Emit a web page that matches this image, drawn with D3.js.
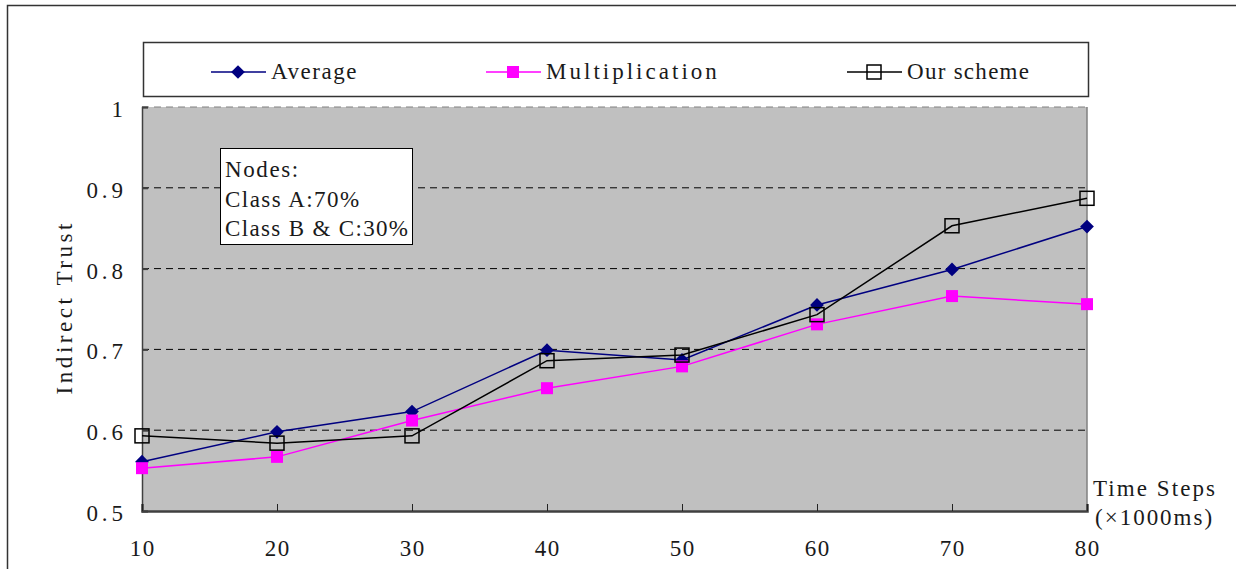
<!DOCTYPE html>
<html>
<head>
<meta charset="utf-8">
<script src="https://cdn.jsdelivr.net/npm/d3@7"></script>
<style>
  html, body { margin: 0; padding: 0; background: #fff; }
  svg { display: block; }
  text { font-family: "Liberation Serif", "DejaVu Serif", serif; fill: #1a1a1a; }
</style>
</head>
<body>
<svg id="chart" width="1236" height="569"></svg>
<script>
// Time steps (x1000 ms)
const steps = [10, 20, 30, 40, 50, 60, 70, 80];

// Indirect trust per scheme
const average        = [0.561, 0.598, 0.623, 0.699, 0.687, 0.755, 0.799, 0.852];
const multiplication = [0.553, 0.567, 0.612, 0.652, 0.679, 0.731, 0.766, 0.756];
const ourScheme      = [0.593, 0.584, 0.593, 0.686, 0.693, 0.743, 0.853, 0.887];

const yTicks = [0.5, 0.6, 0.7, 0.8, 0.9, 1];
const yTickLabels = ["0.5", "0.6", "0.7", "0.8", "0.9", "1"];

const seriesNames = ["Average", "Multiplication", "Our scheme"];
const noteLines = ["Nodes:", "Class A:70%", "Class B & C:30%"];

const series = [
  { name: seriesNames[0], values: average,        color: "#000080", marker: "diamond" },
  { name: seriesNames[1], values: multiplication, color: "#FF00FF", marker: "square" },
  { name: seriesNames[2], values: ourScheme,      color: "#000000", marker: "open" }
];

const svg = d3.select("#chart");
const plot = { left: 142, right: 1087, top: 107, bottom: 511 };

const x = d3.scaleLinear().domain([10, 80]).range([plot.left, plot.right]);
const y = d3.scaleLinear().domain([0.5, 1]).range([plot.bottom, plot.top]);

// fixed-pitch text: each half-width character takes ~12.2px
const CH = 12.2;
function label(sel, str, units) {
  sel.text(str)
    .attr("font-size", 23)
    .attr("textLength", (units || str.length) * CH)
    .attr("lengthAdjust", "spacing");
  return sel;
}

// outer frame (left and top edges visible)
svg.append("path")
  .attr("d", "M7.5,569 V5.5 H1236")
  .attr("fill", "none").attr("stroke", "#333").attr("stroke-width", 1.5);

// plot background
svg.append("rect")
  .attr("x", plot.left).attr("y", plot.top)
  .attr("width", plot.right - plot.left).attr("height", plot.bottom - plot.top)
  .attr("fill", "#C0C0C0");

// horizontal gridlines
svg.append("g").selectAll("line")
  .data(yTicks.filter(v => v > 0.5))
  .join("line")
  .attr("x1", plot.left).attr("x2", plot.right)
  .attr("y1", d => y(d)).attr("y2", d => y(d))
  .attr("stroke", d => d === 1 ? "#808080" : "#000")
  .attr("stroke-width", 1)
  .attr("stroke-dasharray", "7,5");

// right border of plot
svg.append("line")
  .attr("x1", plot.right).attr("x2", plot.right)
  .attr("y1", plot.top).attr("y2", plot.bottom)
  .attr("stroke", "#808080").attr("stroke-width", 1.5);

// y axis
const yAxis = d3.axisLeft(y).tickValues(yTicks).tickSize(-6).tickFormat("");
const gy = svg.append("g").attr("transform", `translate(${plot.left},0)`).call(yAxis);
gy.select(".domain").attr("stroke", "#404040").attr("stroke-width", 1.5);
gy.selectAll(".tick line").attr("stroke", "#404040").attr("stroke-width", 2);

svg.append("g").selectAll("text")
  .data(yTicks)
  .join("text")
  .attr("x", 123)
  .attr("y", d => y(d) + 10)
  .attr("text-anchor", "end")
  .each(function(d, i) { label(d3.select(this), yTickLabels[i]); });

// x axis
const xAxis = d3.axisBottom(x).tickValues(steps).tickSize(-7).tickFormat("");
const gx = svg.append("g").attr("transform", `translate(0,${plot.bottom})`).call(xAxis);
gx.select(".domain").attr("stroke", "#404040").attr("stroke-width", 2.5);
gx.selectAll(".tick line").attr("stroke", "#222").attr("stroke-width", 1);

svg.append("g").selectAll("text")
  .data(steps)
  .join("text")
  .attr("x", d => x(d))
  .attr("y", 556)
  .attr("text-anchor", "middle")
  .each(function(d) { label(d3.select(this), String(d)); });

// axis titles
label(svg.append("text").attr("x", 1093).attr("y", 496), "Time Steps");
label(svg.append("text").attr("x", 1095).attr("y", 525), "(×1000ms)", 9.6);
label(svg.append("text")
  .attr("transform", "translate(72,309) rotate(-90)")
  .attr("text-anchor", "middle"), "Indirect Trust");

// series lines and markers
const line = d3.line().x((d, i) => x(steps[i])).y(d => y(d));

function drawMarker(g, type, color, cx, cy) {
  if (type === "diamond") {
    g.append("path")
      .attr("d", d3.symbol(d3.symbolDiamond2, 120)())
      .attr("transform", `translate(${cx},${cy})`)
      .attr("fill", color);
  } else if (type === "square") {
    g.append("rect")
      .attr("x", cx - 6).attr("y", cy - 6).attr("width", 12).attr("height", 12)
      .attr("fill", color);
  } else {
    g.append("rect")
      .attr("x", cx - 7).attr("y", cy - 7).attr("width", 14).attr("height", 14)
      .attr("fill", "none").attr("stroke", color).attr("stroke-width", 1.5);
  }
}

series.forEach(s => {
  const g = svg.append("g");
  g.append("path")
    .attr("d", line(s.values))
    .attr("fill", "none")
    .attr("stroke", s.color)
    .attr("stroke-width", 1.5);
  s.values.forEach((v, i) => drawMarker(g, s.marker, s.color, x(steps[i]), y(v)));
});

// legend
svg.append("rect")
  .attr("x", 143.5).attr("y", 42.5).attr("width", 945).attr("height", 54)
  .attr("fill", "#fff").attr("stroke", "#333").attr("stroke-width", 1.5);

const legendX = [211, 486, 847];
series.forEach((s, i) => {
  const g = svg.append("g");
  const lx = legendX[i];
  g.append("line")
    .attr("x1", lx).attr("x2", lx + 55)
    .attr("y1", 72).attr("y2", 72)
    .attr("stroke", s.color).attr("stroke-width", 1.5);
  drawMarker(g, s.marker, s.color, lx + 27, 72);
  label(g.append("text").attr("x", lx + 60).attr("y", 79), s.name);
});

// note box
svg.append("rect")
  .attr("x", 220.5).attr("y", 148.5).attr("width", 192).attr("height", 96)
  .attr("fill", "#fff").attr("stroke", "#000").attr("stroke-width", 1);

const noteY = [177, 207, 236];
noteLines.forEach((t, i) => {
  label(svg.append("text").attr("x", 225).attr("y", noteY[i]), t);
});
</script>
</body>
</html>
